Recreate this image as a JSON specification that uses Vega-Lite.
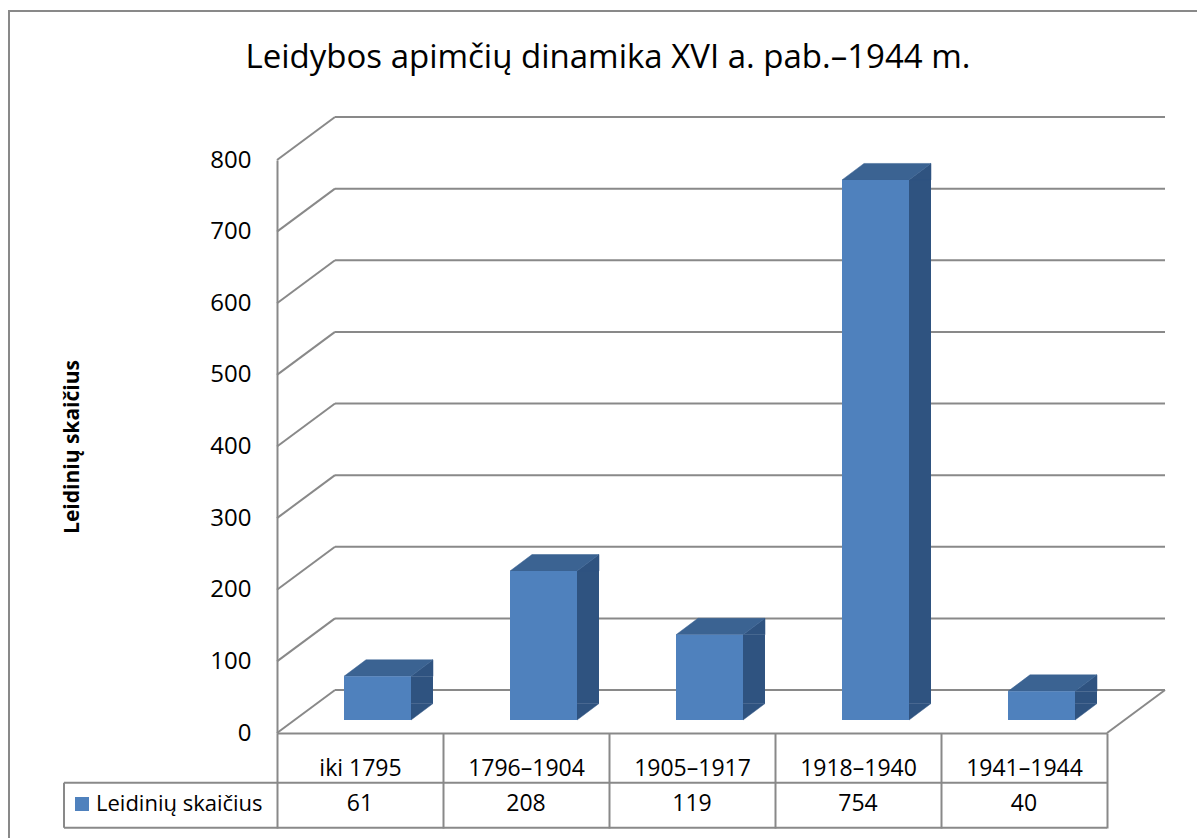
{
  "$schema": "https://vega.github.io/schema/vega-lite/v6.json",
  "autosize": "none",
  "padding": {"left": 277, "top": 160, "right": 90, "bottom": 105},
  "width": 830,
  "height": 573,
  "background": "white",
  "config": {"view": {"stroke": null}, "axis": {"grid": false}, "font": "Open Sans"},
  "title": {
    "text": "Leidybos apimčių dinamika XVI a. pab.–1944 m.",
    "font": "Open Sans",
    "fontSize": 33,
    "fontWeight": "normal",
    "color": "#000000",
    "anchor": "middle",
    "frame": "group",
    "offset": -65,
    "dx": -84
  },
  "datasets": {
    "bars": [
      {"cat": "iki 1795", "n": 61},
      {"cat": "1796–1904", "n": 208},
      {"cat": "1905–1917", "n": 119},
      {"cat": "1918–1940", "n": 754},
      {"cat": "1941–1944", "n": 40}
    ],
    "ticks": [
      {"t": 0}, {"t": 100}, {"t": 200}, {"t": 300}, {"t": 400},
      {"t": 500}, {"t": 600}, {"t": 700}, {"t": 800}
    ]
  },
  "data": {"name": "bars"},
  "encoding": {
    "x": {
      "field": "cat",
      "type": "nominal",
      "scale": {
        "domain": ["iki 1795", "1796–1904", "1905–1917", "1918–1940", "1941–1944"],
        "paddingInner": 0,
        "paddingOuter": 0
      },
      "axis": {
        "title": null,
        "orient": "bottom",
        "domain": true,
        "domainColor": "#898989",
        "domainWidth": 2,
        "ticks": true,
        "tickBand": "extent",
        "tickSize": 95,
        "tickColor": "#898989",
        "tickWidth": 2,
        "labelAngle": 0,
        "labelFont": "Open Sans",
        "labelFontSize": 23,
        "labelColor": "#000000",
        "labelPadding": -53,
        "labelBaseline": "alphabetic"
      }
    }
  },
  "layer": [
    {
      "data": {"name": "ticks"},
      "mark": {"type": "rule", "color": "#898989", "strokeWidth": 2, "yOffset": -43},
      "encoding": {
        "x": {"value": 58},
        "x2": {"value": 888},
        "y": {
          "field": "t",
          "type": "quantitative",
          "scale": {"domain": [0, 800], "nice": false},
          "axis": {
            "title": "Leidinių skaičius",
            "values": [0, 100, 200, 300, 400, 500, 600, 700, 800],
            "grid": false,
            "ticks": false,
            "tickSize": 0,
            "domain": true,
            "domainColor": "#898989",
            "domainWidth": 2,
            "labelFont": "Open Sans",
            "labelFontSize": 24,
            "labelColor": "#000000",
            "labelPadding": 26,
            "titleFont": "Open Sans",
            "titleFontSize": 21,
            "titleFontWeight": "bold",
            "titleColor": "#000000",
            "titleX": -205,
            "titleY": 286.5,
            "titleAngle": -90,
            "titleAlign": "center",
            "titleBaseline": "middle"
          }
        }
      }
    },
    {
      "data": {"name": "ticks"},
      "mark": {"type": "rule", "color": "#898989", "strokeWidth": 2, "y2Offset": -43},
      "encoding": {
        "x": {"value": 0},
        "x2": {"value": 58},
        "y": {"field": "t", "type": "quantitative"},
        "y2": {"field": "t"}
      }
    },
    {
      "data": {"values": [{}]},
      "mark": {"type": "rule", "color": "#898989", "strokeWidth": 2, "y2Offset": -43},
      "encoding": {
        "x": {"value": 830},
        "x2": {"value": 888},
        "y": {"datum": 0, "type": "quantitative"},
        "y2": {"datum": 0}
      }
    },
    {
      "data": {"values": [{}]},
      "mark": {"type": "rule", "color": "#898989", "strokeWidth": 2},
      "encoding": {
        "x": {"value": -213},
        "x2": {"value": 830},
        "y": {"value": 622.7}
      }
    },
    {
      "data": {"values": [{}]},
      "mark": {"type": "rule", "color": "#898989", "strokeWidth": 2},
      "encoding": {
        "x": {"value": -213},
        "x2": {"value": 830},
        "y": {"value": 667.7}
      }
    },
    {
      "data": {"values": [{}]},
      "mark": {"type": "rule", "color": "#898989", "strokeWidth": 2},
      "encoding": {
        "x": {"value": -213},
        "y": {"value": 622.7},
        "y2": {"value": 667.7}
      }
    },
    {
      "mark": {"type": "bar", "color": "#2F5380", "width": 22, "xOffset": 62, "yOffset": -13, "y2Offset": -29.5},
      "encoding": {
        "y": {"field": "n", "type": "quantitative"},
        "y2": {"datum": 0}
      }
    },
    {
      "mark": {"type": "point", "shape": "M 33.5 0 L 55.5 -16.5 L 55.5 0 Z", "size": 4, "filled": true, "color": "#2F5380", "opacity": 1, "stroke": "#2F5380", "strokeWidth": 0.5, "xOffset": 17.5, "yOffset": -13},
      "encoding": {
        "y": {"field": "n", "type": "quantitative"}
      }
    },
    {
      "mark": {"type": "point", "shape": "M 33.5 -16.5 L 55.5 -16.5 L 33.5 0 Z", "size": 4, "filled": true, "color": "#2F5380", "opacity": 1, "stroke": "#2F5380", "strokeWidth": 0.5, "xOffset": 17.5, "yOffset": -13},
      "encoding": {
        "y": {"datum": 0, "type": "quantitative"}
      }
    },
    {
      "mark": {"type": "point", "shape": "M -33.5 0 L 33.5 0 L 55.5 -16.5 L -11.5 -16.5 Z", "size": 4, "filled": true, "color": "#3B6392", "opacity": 1, "stroke": "#3B6392", "strokeWidth": 0.5, "xOffset": 17.5, "yOffset": -13},
      "encoding": {
        "y": {"field": "n", "type": "quantitative"}
      }
    },
    {
      "mark": {"type": "bar", "width": 67, "xOffset": 17.5, "yOffset": -13, "y2Offset": -13},
      "encoding": {
        "y": {"field": "n", "type": "quantitative"},
        "color": {
          "datum": "Leidinių skaičius",
          "scale": {"range": ["#4F81BD"]},
          "legend": {
            "orient": "none",
            "legendX": -206,
            "legendY": 633,
            "title": null,
            "symbolType": "square",
            "symbolSize": 196,
            "symbolStrokeWidth": 0,
            "labelFont": "Open Sans",
            "labelFontSize": 22,
            "labelColor": "#000000",
            "labelOffset": 3,
            "labelLimit": 0,
            "padding": 0
          }
        }
      }
    },
    {
      "mark": {"type": "text", "font": "Open Sans", "fontSize": 23, "color": "#000000", "baseline": "alphabetic", "align": "center", "yOffset": 78},
      "encoding": {
        "y": {"datum": 0, "type": "quantitative"},
        "text": {"field": "n", "type": "quantitative"}
      }
    },
    {
      "data": {"values": [{}]},
      "mark": {"type": "rect", "fill": "transparent", "stroke": "#898989", "strokeWidth": 2},
      "encoding": {
        "x": {"value": -268},
        "x2": {"value": 930},
        "y": {"value": -149},
        "y2": {"value": 700}
      }
    }
  ]
}
